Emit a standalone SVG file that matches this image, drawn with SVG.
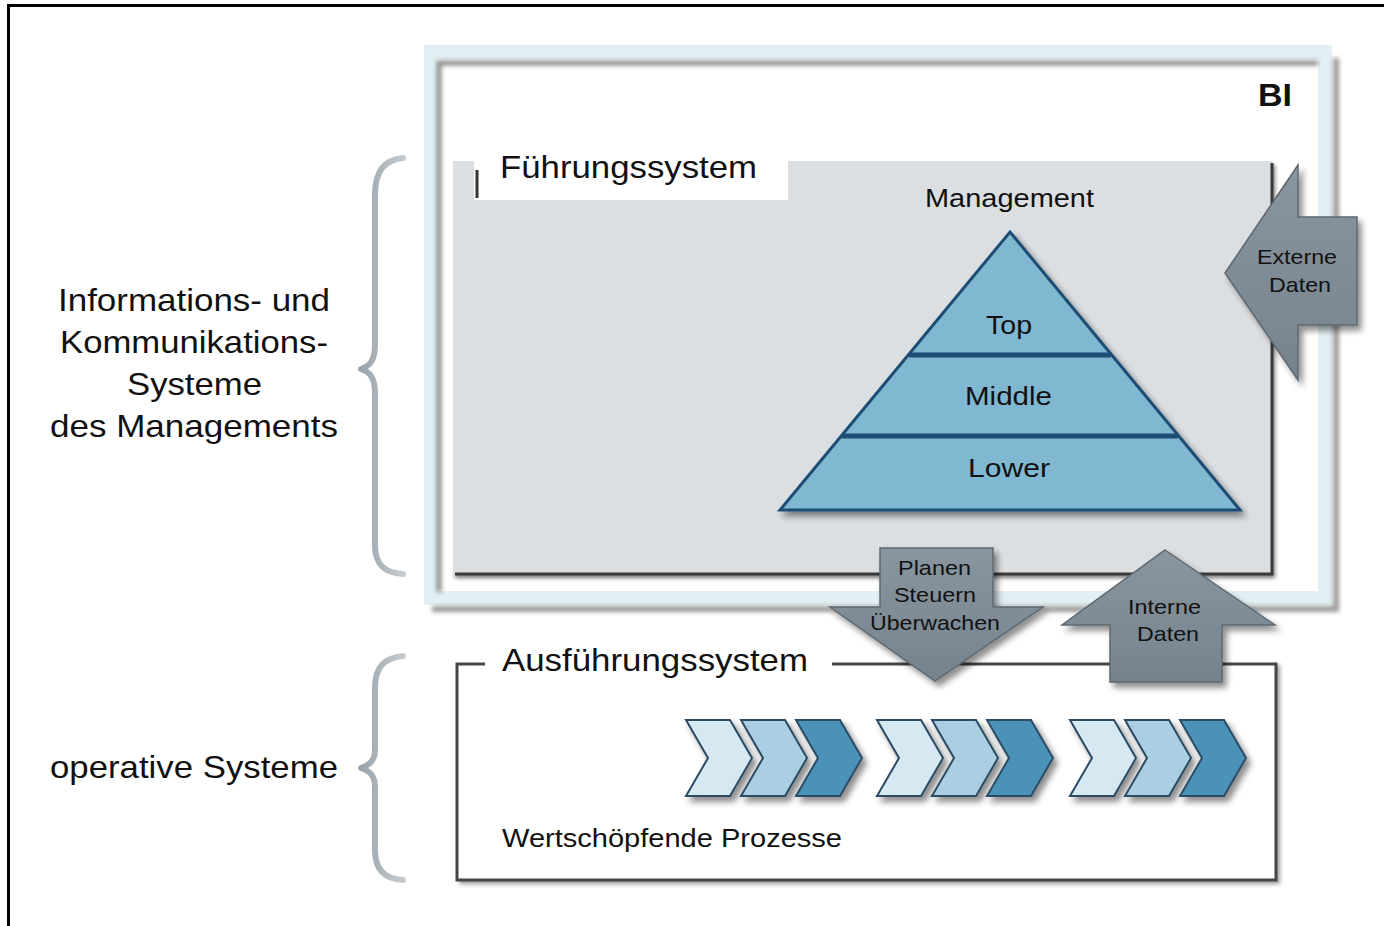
<svg xmlns="http://www.w3.org/2000/svg" width="1384" height="926" viewBox="0 0 1384 926">
<defs>
<filter id="sh" x="-20%" y="-20%" width="140%" height="140%">
<feGaussianBlur in="SourceAlpha" stdDeviation="3"/>
<feOffset dx="4" dy="5" result="b"/>
<feComponentTransfer><feFuncA type="linear" slope="0.45"/></feComponentTransfer>
<feMerge><feMergeNode/><feMergeNode in="SourceGraphic"/></feMerge>
</filter>
<filter id="blur" x="-10%" y="-10%" width="120%" height="120%"><feGaussianBlur stdDeviation="2"/></filter>
<linearGradient id="arrowFill" x1="0" y1="0" x2="0" y2="1">
<stop offset="0" stop-color="#8996a0"/><stop offset="1" stop-color="#76838d"/>
</linearGradient>
<linearGradient id="brace" x1="0" y1="0" x2="1" y2="0">
<stop offset="0" stop-color="#9aa4ab"/><stop offset="1" stop-color="#c4cbcf"/>
</linearGradient>
<polygon id="chev" points="0,0 44,0 66,38 44,76 0,76 22,38"/>
</defs>
<style>
text{font-family:"Liberation Sans",Arial,sans-serif;fill:#111;}
.big{font-size:32px;}
.mid{font-size:26px;}
.sm{font-size:21px;}
.arrow{fill:url(#arrowFill);stroke:#5d6870;stroke-width:1.5;filter:url(#sh);}
.c1{fill:#d6e8f1;stroke:#2b4c63;stroke-width:2;}
.c2{fill:#abcfe2;stroke:#2b4c63;stroke-width:2;}
.c3{fill:#4c92b8;stroke:#2b4c63;stroke-width:2;}
.frame{fill:none;stroke:#454545;stroke-width:3;}
.braceS{fill:none;stroke:url(#brace);stroke-width:6;stroke-linecap:round;stroke-linejoin:round;}
</style>
<rect x="0" y="0" width="1384" height="926" fill="#ffffff"/>
<!-- outer frame lines -->
<path d="M8.5,926 V5.5 H1384" fill="none" stroke="#000" stroke-width="3"/>

<!-- left labels and braces -->
<g id="label-ik">
<text class="big" x="58" y="311" textLength="272" lengthAdjust="spacingAndGlyphs">Informations- und</text>
<text class="big" x="60" y="353" textLength="268" lengthAdjust="spacingAndGlyphs">Kommunikations-</text>
<text class="big" x="127" y="395" textLength="135" lengthAdjust="spacingAndGlyphs">Systeme</text>
<text class="big" x="50" y="437" textLength="288" lengthAdjust="spacingAndGlyphs">des Managements</text>
<path class="braceS" d="M403,158 C385,160 375,170 375,195 V345 C375,360 370,366 361,369 C370,372 375,378 375,393 V545 C375,565 385,573 403,574"/>
</g>
<g id="label-op">
<text class="big" x="50" y="778" textLength="288" lengthAdjust="spacingAndGlyphs">operative Systeme</text>
<path class="braceS" d="M403,656 C385,658 375,666 375,688 V750 C375,760 370,765 361,768 C370,771 375,776 375,786 V850 C375,870 385,879 403,880"/>
</g>

<!-- BI frame -->
<g id="bi">
<rect x="431" y="52" width="894" height="546" fill="#ffffff" stroke="#e2eff3" stroke-width="14"/>
<path d="M1336,58 V609 H432" fill="none" stroke="#9a9a9a" stroke-width="6" filter="url(#blur)"/>
<path d="M439,592 V63 H1318" fill="none" stroke="#8a8a8a" stroke-width="5" filter="url(#blur)"/>
<text x="1258" y="106" font-size="32" font-weight="bold" textLength="34" lengthAdjust="spacingAndGlyphs">BI</text>
</g>

<!-- Führungssystem -->
<g id="fuehrungssystem">
<path d="M1272,165 V575 H455" fill="none" stroke="#777" stroke-width="6" filter="url(#blur)"/>
<rect x="453" y="161" width="819" height="413" fill="#dcdfe2"/>
<path d="M1272,163 V574 H455" fill="none" stroke="#3a3a3a" stroke-width="3"/>
<rect x="474" y="153" width="314" height="47" fill="#ffffff"/>
<line x1="477" y1="170" x2="477" y2="198" stroke="#333" stroke-width="3"/>
<text class="big" x="500" y="178" textLength="257" lengthAdjust="spacingAndGlyphs">Führungssystem</text>
<text class="mid" x="925" y="207" textLength="169" lengthAdjust="spacingAndGlyphs">Management</text>
</g>

<!-- Pyramid -->
<g id="pyramid">
<polygon points="1010,232 1240,510 780,510" fill="#80b7d1" stroke="#1f4e74" stroke-width="3" stroke-linejoin="miter" filter="url(#sh)"/>
<line x1="909" y1="355" x2="1111" y2="355" stroke="#1f4e74" stroke-width="5"/>
<line x1="842" y1="436" x2="1178" y2="436" stroke="#1f4e74" stroke-width="5"/>
<text class="mid" x="986" y="334" textLength="46" lengthAdjust="spacingAndGlyphs">Top</text>
<text class="mid" x="965" y="405" textLength="87" lengthAdjust="spacingAndGlyphs">Middle</text>
<text class="mid" x="968" y="477" textLength="82" lengthAdjust="spacingAndGlyphs">Lower</text>
</g>

<!-- Ausführungssystem -->
<g id="ausfuehrungssystem">
<path d="M1277,665 V881 H459" fill="none" stroke="#999" stroke-width="6" filter="url(#blur)"/>
<rect x="457" y="664" width="819" height="216" fill="#ffffff"/>
<path class="frame" d="M485,664 H457 V880 H1276 V664 H832"/>
<text class="big" x="502" y="671" textLength="306" lengthAdjust="spacingAndGlyphs">Ausführungssystem</text>
<text class="mid" x="502" y="847" font-size="25" textLength="340" lengthAdjust="spacingAndGlyphs">Wertschöpfende Prozesse</text>
</g>

<!-- Prozess chevrons -->
<g id="prozesse" filter="url(#sh)">
<use href="#chev" class="c1" x="686" y="720"/>
<use href="#chev" class="c2" x="741" y="720"/>
<use href="#chev" class="c3" x="796" y="720"/>
<use href="#chev" class="c1" x="877" y="720"/>
<use href="#chev" class="c2" x="932" y="720"/>
<use href="#chev" class="c3" x="987" y="720"/>
<use href="#chev" class="c1" x="1070" y="720"/>
<use href="#chev" class="c2" x="1125" y="720"/>
<use href="#chev" class="c3" x="1180" y="720"/>
</g>

<!-- Block arrows (connectors) -->
<g id="connectors">
<g id="externe-daten">
<polygon class="arrow" points="1225,273 1298,165 1298,217 1357,217 1357,325 1298,325 1298,380"/>
<text class="sm" x="1257" y="264" textLength="80" lengthAdjust="spacingAndGlyphs">Externe</text>
<text class="sm" x="1269" y="292" textLength="62" lengthAdjust="spacingAndGlyphs">Daten</text>
</g>
<g id="planen-steuern">
<polygon class="arrow" points="880,548 993,548 993,607 1043,607 935,681 830,607 880,607"/>
<text class="sm" x="898" y="575" textLength="73" lengthAdjust="spacingAndGlyphs">Planen</text>
<text class="sm" x="894" y="602" textLength="82" lengthAdjust="spacingAndGlyphs">Steuern</text>
<text class="sm" x="870" y="630" textLength="130" lengthAdjust="spacingAndGlyphs">Überwachen</text>
</g>
<g id="interne-daten">
<polygon class="arrow" points="1165,550 1275,625 1222,625 1222,682 1110,682 1110,625 1062,625"/>
<text class="sm" x="1128" y="614" textLength="73" lengthAdjust="spacingAndGlyphs">Interne</text>
<text class="sm" x="1137" y="641" textLength="62" lengthAdjust="spacingAndGlyphs">Daten</text>
</g>
</g>
</svg>
